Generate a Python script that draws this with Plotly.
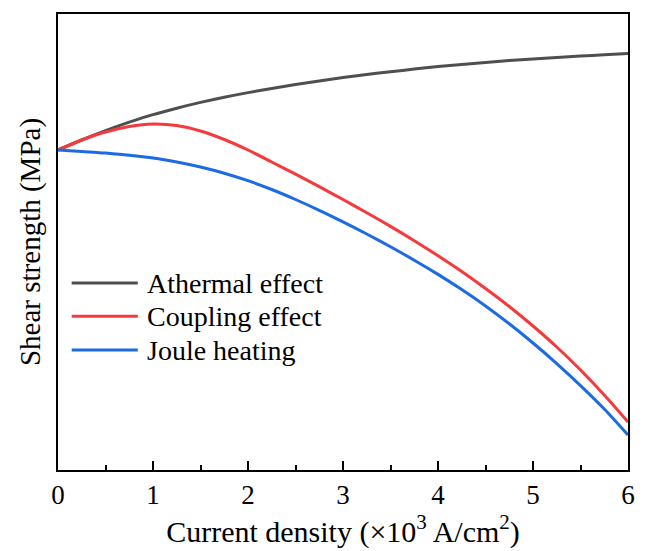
import plotly.graph_objects as go

# Current density (x10^3 A/cm^2)
x_vals = [i * 0.25 for i in range(25)]
# Shear strength (arbitrary MPa units)
athermal = [32.0, 33.0, 33.93, 34.78, 35.54, 36.18, 36.76, 37.28, 37.74, 38.16, 38.54, 38.9, 39.24,
            39.55, 39.83, 40.09, 40.34, 40.56, 40.76, 40.94, 41.1, 41.25, 41.39, 41.52, 41.64]
coupling = [32.0, 33.0, 33.8, 34.35, 34.6, 34.45, 33.9, 33.05, 32.0, 30.8, 29.58, 28.33, 27.05,
            25.73, 24.36, 22.93, 21.43, 19.85, 18.15, 16.35, 14.4, 12.3, 10.0, 7.5, 4.8]
joule = [32.0, 31.85, 31.7, 31.47, 31.2, 30.8, 30.3, 29.68, 28.93, 28.05, 27.05, 25.97, 24.82,
         23.6, 22.32, 20.98, 19.56, 18.04, 16.4, 14.62, 12.7, 10.64, 8.44, 6.1, 3.5]

series_names = ["Athermal effect", "Coupling effect", "Joule heating"]
series_colors = ["#4f4f4f", "#f5393c", "#1c6be4"]
x_ticks = [0, 1, 2, 3, 4, 5, 6]

FONT = "Liberation Serif"

fig = go.Figure()
for name, ys, col in zip(series_names, [athermal, coupling, joule], series_colors):
    fig.add_trace(go.Scatter(x=x_vals, y=ys, mode="lines", name=name,
                             line=dict(color=col, width=3, shape="spline", smoothing=0.8),
                             showlegend=False))

# custom legend (line samples + labels) in paper coordinates
legend_y = [0.41, 0.337, 0.263]
for name, col, ly in zip(series_names, series_colors, legend_y):
    fig.add_shape(type="line", xref="paper", yref="paper",
                  x0=0.024, x1=0.14, y0=ly, y1=ly,
                  line=dict(color=col, width=3))
    fig.add_annotation(xref="paper", yref="paper", x=0.152, y=ly, text=name,
                       showarrow=False, xanchor="left", yanchor="middle",
                       font=dict(family=FONT, size=28, color="black"))

fig.update_layout(
    width=647, height=551,
    margin=dict(l=58, r=17, t=14, b=81),
    paper_bgcolor="white", plot_bgcolor="white",
    font=dict(family=FONT, color="black"),
    xaxis=dict(range=[0, 6], tickvals=x_ticks, ticks="inside", ticklen=9, tickwidth=2,
               tickcolor="black", showline=True, linewidth=2, linecolor="black",
               mirror=True, showgrid=False, zeroline=False,
               tickfont=dict(family=FONT, size=27, color="black"),
               minor=dict(dtick=0.5, ticks="inside", ticklen=5, tickwidth=2, tickcolor="black", showgrid=False),
               title=dict(text="Current density (×10<sup>3</sup> A/cm<sup>2</sup>)",
                          font=dict(family=FONT, size=30, color="black"), standoff=4)),
    yaxis=dict(range=[0, 45.6], showticklabels=False, ticks="", showline=True,
               linewidth=2, linecolor="black", mirror=True, showgrid=False, zeroline=False,
               title=dict(text="Shear strength (MPa)",
                          font=dict(family=FONT, size=29, color="black"), standoff=7)),
)

fig.write_html("out.html")
